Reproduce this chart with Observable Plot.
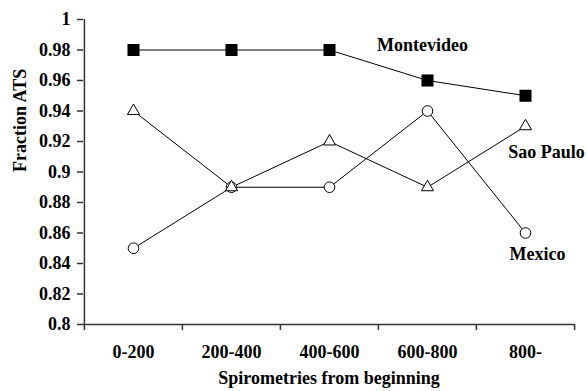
<!DOCTYPE html>
<html><head><meta charset="utf-8">
<script src="https://cdn.jsdelivr.net/npm/d3@7"></script>
<script src="https://cdn.jsdelivr.net/npm/@observablehq/plot@0.6"></script>
<style>
body{margin:0;background:#fff}
</style>
</head><body><div id="chart"></div>
<script>
const categories = ["0-200", "200-400", "400-600", "600-800", "800-"];
const montevideo = [0.98, 0.98, 0.98, 0.96, 0.95];
const saoPaulo = [0.94, 0.89, 0.92, 0.89, 0.93];
const mexico = [0.85, 0.89, 0.89, 0.94, 0.86];
const yTicks = [0.8, 0.82, 0.84, 0.86, 0.88, 0.9, 0.92, 0.94, 0.96, 0.98, 1];
const seriesNames = ["Montevideo", "Sao Paulo", "Mexico"];
const yTitle = "Fraction ATS";
const xTitle = "Spirometries from beginning";

const W = 586, H = 391, mL = 83, mR = 12, mT = 19, mB = 67;
const step = (W - mL - mR) / categories.length;
const toRows = (name, vals) => categories.map((c, i) => ({series: name, cat: c, value: vals[i]}));
const mv = toRows(seriesNames[0], montevideo);
const sp = toRows(seriesNames[1], saoPaulo);
const mx = toRows(seriesNames[2], mexico);
const font = "'Liberation Serif', 'DejaVu Serif', serif";
const axisColor = "#333";
const tx = {fontFamily: font, fontWeight: "bold", fontSize: 18};

const chart = Plot.plot({
  width: W, height: H,
  marginLeft: mL, marginRight: mR, marginTop: mT, marginBottom: mB,
  style: {fontFamily: font, fontSize: "18px", fontWeight: "bold", background: "white", color: "black"},
  x: {type: "band", domain: categories, padding: 0},
  y: {domain: [0.8, 1]},
  marks: [
    Plot.ruleY([0.8], {stroke: axisColor, strokeWidth: 1.5}),
    Plot.ruleX([categories[0]], {dx: -step / 2, y1: 0.8, y2: 1, stroke: axisColor, strokeWidth: 1.5}),
    Plot.axisY({ticks: yTicks, tickSize: 6, tickPadding: 7, tickFormat: d => String(+d.toFixed(2)), label: null, stroke: axisColor, strokeWidth: 1.5, ...tx}),
    Plot.axisX({ticks: categories, tickSize: 6, text: null, dx: -step / 2, label: null, stroke: axisColor, strokeWidth: 1.5}),
    Plot.axisX({ticks: [categories[categories.length - 1]], tickSize: 6, text: null, dx: step / 2, label: null, stroke: axisColor, strokeWidth: 1.5}),
    Plot.axisX({ticks: categories, tickSize: 0, tickPadding: 21, label: null, ...tx}),
    Plot.text([yTitle], {frameAnchor: "left", rotate: -90, dx: -63, ...tx}),
    Plot.text([xTitle], {frameAnchor: "bottom", dy: 59, ...tx}),
    Plot.line(mv, {x: "cat", y: "value", stroke: "black", strokeWidth: 1}),
    Plot.line(sp, {x: "cat", y: "value", stroke: "black", strokeWidth: 1}),
    Plot.line(mx, {x: "cat", y: "value", stroke: "black", strokeWidth: 1}),
    Plot.dot(mx, {x: "cat", y: "value", symbol: "circle", fill: "white", stroke: "black", strokeWidth: 1, r: 5.3}),
    Plot.dot(sp, {x: "cat", y: "value", symbol: "triangle", fill: "white", stroke: "black", strokeWidth: 1, r: 4.5}),
    Plot.dot(mv, {x: "cat", y: "value", symbol: "square", fill: "black", stroke: "none", r: 6.8}),
    Plot.text(mv.filter(d => d.cat === "600-800"), {x: "cat", y: "value", text: "series", dx: -5, dy: -35, ...tx}),
    Plot.text(sp.filter(d => d.cat === "800-"), {x: "cat", y: "value", text: "series", dx: 21, dy: 26, ...tx}),
    Plot.text(mx.filter(d => d.cat === "800-"), {x: "cat", y: "value", text: "series", dx: 12, dy: 21, ...tx})
  ]
});
document.getElementById("chart").appendChild(chart);
</script>
</body></html>
